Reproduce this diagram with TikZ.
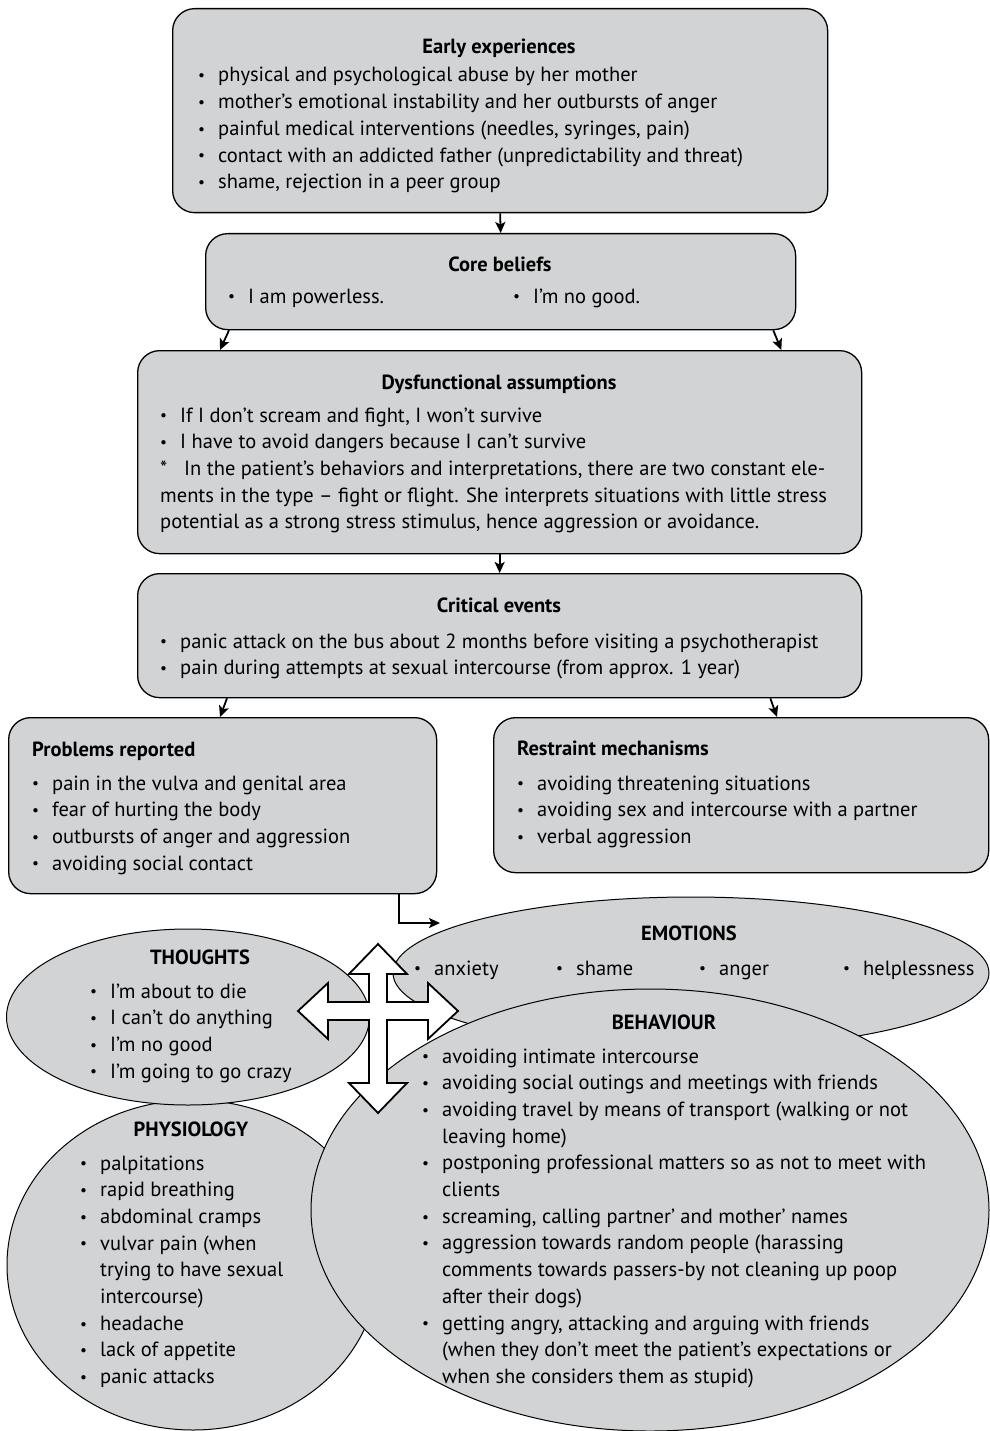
\documentclass[tikz,border=0pt]{standalone}
\usepackage{fontspec}
\setmainfont{PT Sans}
\usetikzlibrary{arrows.meta,shapes.geometric}
\definecolor{boxgray}{RGB}{209,211,212}
\newcommand\bul{\makebox[20pt][l]{\raisebox{1.2pt}{\scalebox{0.75}{•}}}}
\newcommand\ind{\hspace*{20pt}}
\newcommand\lst[1]{\vtop{\baselineskip=26.7pt\lineskiplimit=-50pt\relax\halign{##\hfil\cr#1\crcr}}}
\newcommand\bodyfont{\fontsize{20.5}{26.7}\selectfont}
\tikzset{
  cbox/.style={draw=black, line width=1.3pt, fill=boxgray, rounded corners=22pt, inner sep=0pt, anchor=north west},
  ell/.style={ellipse, draw=black, line width=1pt, fill=boxgray, inner sep=0pt},
  ttl/.style={font=\bodyfont\bfseries, inner sep=0pt, anchor=base},
  ttlw/.style={font=\bodyfont\bfseries, inner sep=0pt, anchor=base west},
  txt/.style={font=\bodyfont, inner sep=0pt, anchor=base west},
  arr/.style={draw=black, line width=1.8pt, -{Stealth[length=11pt,width=10pt,inset=2.5pt]}},
  bigarrow/.style={draw=black, line width=1.8pt, fill=white, line join=miter}
}
\begin{document}
\begin{tikzpicture}[x=1pt, y=-1pt, font=\bodyfont]
\useasboundingbox (0,0) rectangle (989,1431);

% ---------- boxes ----------
\node[cbox, minimum width=655pt, minimum height=204pt] (early) at (172,8) {};
\node[cbox, minimum width=590pt, minimum height=96pt] (core) at (205,233) {};
\node[cbox, minimum width=724pt, minimum height=203pt] (dys) at (137,350) {};
\node[cbox, minimum width=724pt, minimum height=124pt] (crit) at (137,573) {};
\node[cbox, minimum width=428pt, minimum height=176pt] (prob) at (8,717) {};
\node[cbox, minimum width=495pt, minimum height=155pt] (restr) at (493,717) {};

% ---------- box texts ----------
\node[ttl] (earlyT) at (499,54) {Early experiences};
\node[txt] (earlyL) at (198,82) {\lst{%
\bul physical and psychological abuse by her mother\cr
\bul mother's emotional instability and her outbursts of anger\cr
\bul painful medical interventions (needles, syringes, pain)\cr
\bul contact with an addicted father (unpredictability and threat)\cr
\bul shame, rejection in a peer group}};

\node[ttl] (coreT) at (500,272) {Core beliefs};
\node[txt] (coreA) at (228,303) {\bul I am powerless.};
\node[txt] (coreB) at (513,303) {\bul I'm no good.};

\node[ttl] (dysT) at (499,389) {Dysfunctional assumptions};
\node[txt] (dysL) at (160,422) {\lst{%
\bul If I don't scream and fight, I won't survive\cr
\bul I have to avoid dangers because I can't survive\cr
\makebox[24pt][l]{*}In the patient's behaviors and interpretations, there are two constant ele-\cr
ments in the type – fight or flight. She interprets situations with little stress\cr
potential as a strong stress stimulus, hence aggression or avoidance.}};

\node[ttl] (critT) at (499,612) {Critical events};
\node[txt] (critL) at (160,648) {\lst{%
\bul panic attack on the bus about 2 months before visiting a psychotherapist\cr
\bul pain during attempts at sexual intercourse (from approx. 1 year)}};

\node[ttlw] (probT) at (32,756) {Problems reported};
\node[txt] (probL) at (32,790) {\lst{%
\bul pain in the vulva and genital area\cr
\bul fear of hurting the body\cr
\bul outbursts of anger and aggression\cr
\bul avoiding social contact}};

\node[ttlw] (restrT) at (517,755) {Restraint mechanisms};
\node[txt] (restrL) at (517,790) {\lst{%
\bul avoiding threatening situations\cr
\bul avoiding sex and intercourse with a partner\cr
\bul verbal aggression}};

% ---------- connectors ----------
\draw[arr] (early.south) -- (core.north);
\draw[arr] ([xshift=24pt]core.south west) -- ([xshift=83pt]dys.north west);
\draw[arr] ([xshift=-23pt]core.south east) -- ([xshift=-81pt]dys.north east);
\draw[arr] (dys.south) -- (crit.north);
\draw[arr] ([xshift=90pt]crit.south west) -- ([xshift=212pt]prob.north west);
\draw[arr] ([xshift=-92pt]crit.south east) -- ([xshift=284pt]restr.north west);
\coordinate (emoin) at (440,923);
\draw[arr] ([xshift=-38pt]prob.south east) |- (emoin);

% ---------- ellipses ----------
\node[ell, minimum width=372pt, minimum height=330pt] (phys) at (193,1265) {};
\node[ell, minimum width=363pt, minimum height=176pt] (thou) at (188,1017) {};
\node[ell, minimum width=596pt, minimum height=152pt] (emo) at (691,973) {};
\node[ell, minimum width=678pt, minimum height=442pt] (beh) at (650,1210) {};

% ---------- ellipse texts ----------
\node[ttl] (emoT) at (689,940) {EMOTIONS};
\node[txt] (emoA) at (414,975) {\bul anxiety};
\node[txt] (emoB) at (556,975) {\bul shame};
\node[txt] (emoC) at (699,975) {\bul anger};
\node[txt] (emoD) at (843,975) {\bul helplessness};

\node[ttl] (thouT) at (200,964) {THOUGHTS};
\node[txt] (thouL) at (90,998) {\lst{%
\bul I'm about to die\cr
\bul I can't do anything\cr
\bul I'm no good\cr
\bul I'm going to go crazy}};

\node[ttl] (physT) at (191,1136) {PHYSIOLOGY};
\node[txt] (physL) at (80,1170) {\lst{%
\bul palpitations\cr
\bul rapid breathing\cr
\bul abdominal cramps\cr
\bul vulvar pain (when\cr
\ind trying to have sexual\cr
\ind intercourse)\cr
\bul headache\cr
\bul lack of appetite\cr
\bul panic attacks}};

\node[ttl] (behT) at (664,1029) {BEHAVIOUR};
\node[txt] (behL) at (422,1063) {\lst{%
\bul avoiding intimate intercourse\cr
\bul avoiding social outings and meetings with friends\cr
\bul avoiding travel by means of transport (walking or not\cr
\ind leaving home)\cr
\bul postponing professional matters so as not to meet with\cr
\ind clients\cr
\bul screaming, calling partner' and mother' names\cr
\bul aggression towards random people (harassing\cr
\ind comments towards passers-by not cleaning up poop\cr
\ind after their dogs)\cr
\bul getting angry, attacking and arguing with friends\cr
\ind (when they don't meet the patient's expectations or\cr
\ind when she considers them as stupid)}};

% ---------- four-way arrow ----------
\draw[bigarrow] (378,944) -- (407,974) -- (387,974) -- (387,1002) -- (428,1002) -- (428,983)
  -- (458,1011) -- (428,1039) -- (428,1020) -- (387,1020) -- (387,1083) -- (407,1083)
  -- (378,1113) -- (349,1083) -- (369,1083) -- (369,1020) -- (328,1020) -- (328,1039)
  -- (298,1011) -- (328,983) -- (328,1002) -- (369,1002) -- (369,974) -- (349,974) -- cycle;
\end{tikzpicture}
\end{document}
